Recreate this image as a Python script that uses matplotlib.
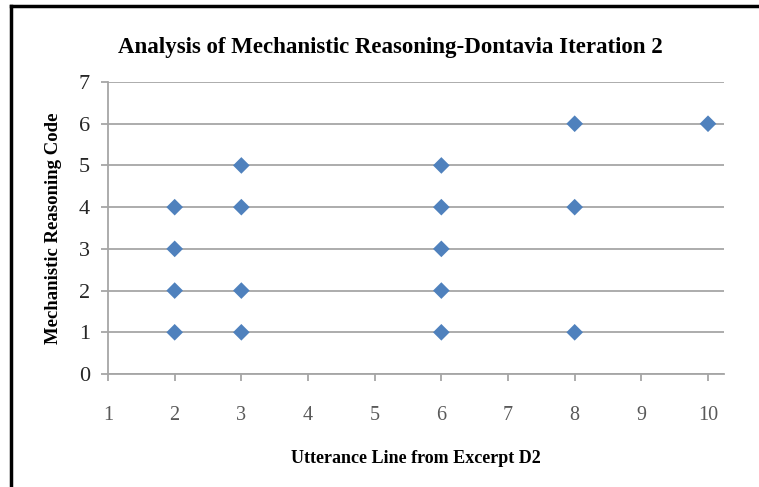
import matplotlib
matplotlib.use("Agg")
import matplotlib.pyplot as plt
from matplotlib.lines import Line2D

# DATA
utterance_line = [2, 2, 2, 2, 3, 3, 3, 3, 6, 6, 6, 6, 6, 8, 8, 8, 10]
reasoning_code = [1, 2, 3, 4, 1, 2, 4, 5, 1, 2, 3, 4, 5, 1, 4, 6, 6]
x_ticks = [1, 2, 3, 4, 5, 6, 7, 8, 9, 10]
y_ticks = [0, 1, 2, 3, 4, 5, 6, 7]

plt.rcParams["font.family"] = ["Liberation Serif", "DejaVu Serif"]

fig = plt.figure(figsize=(7.59, 4.87), dpi=100)
ax = fig.add_axes([0.1423, 0.232, 0.8116, 0.5996])

ax.scatter(utterance_line, reasoning_code, marker="D", s=72, color="#4f81bd",
           edgecolors="none", zorder=3, clip_on=False)

ax.set_xlim(1, 10.24)
ax.set_ylim(0, 7)
ax.set_xticks(x_ticks)
ax.set_yticks(y_ticks)
ax.grid(axis="y", color="#a6a6a6", linewidth=1.3)
ax.set_axisbelow(True)

for side in ["top", "right"]:
    ax.spines[side].set_visible(False)
for side in ["left", "bottom"]:
    ax.spines[side].set_color("#a6a6a6")
    ax.spines[side].set_linewidth(1.3)

ax.tick_params(axis="x", direction="out", length=5, color="#a6a6a6", width=1.3,
               labelsize=14.5, labelcolor="#595959", pad=18)
ax.tick_params(axis="y", direction="out", length=5, color="#a6a6a6", width=1.3,
               labelsize=16, labelcolor="#262626", pad=8)

ax.set_title("Analysis of Mechanistic Reasoning-Dontavia Iteration 2",
             fontsize=16.5, fontweight="bold", pad=21, x=0.458)
ax.set_xlabel("Utterance Line from Excerpt D2", fontsize=13, fontweight="bold",
              labelpad=18)
ax.set_ylabel("Mechanistic Reasoning Code", fontsize=13.5, fontweight="bold",
              labelpad=12)

# frame lines of the pasted chart (top and left)
fig.add_artist(Line2D([0.014, 1.0], [0.988, 0.988], color="black", linewidth=2.5,
                      transform=fig.transFigure))
fig.add_artist(Line2D([0.015, 0.015], [0.0, 0.988], color="black", linewidth=2.5,
                      transform=fig.transFigure))

fig.savefig("out.png", dpi=100)
